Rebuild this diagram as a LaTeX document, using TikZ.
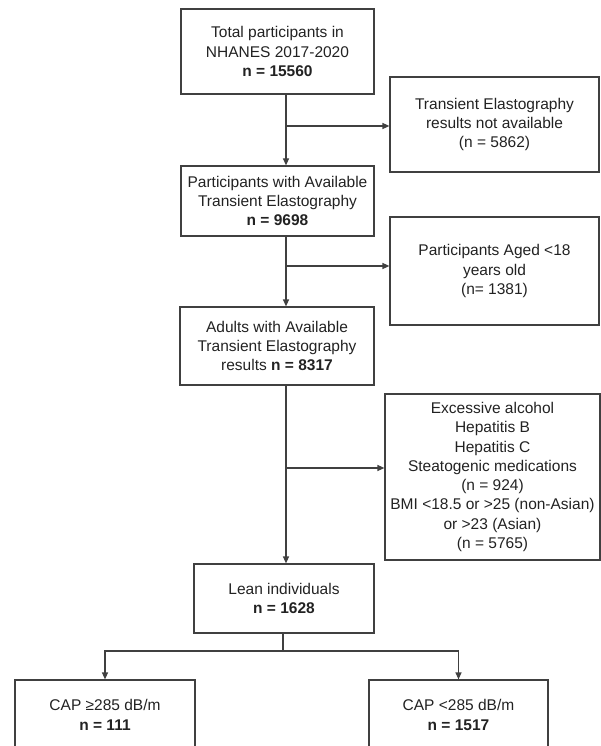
\documentclass[tikz,border=0pt]{standalone}
\usepackage{fontspec}
\setmainfont{Liberation Sans}
\usetikzlibrary{arrows.meta}
\definecolor{linec}{HTML}{404040}
\definecolor{textc}{HTML}{222222}
\begin{document}
\begin{tikzpicture}[x=1pt,y=-1pt,
  box/.style={draw=linec, line width=1.2pt, text=textc, align=center, inner sep=0pt,
    font=\fontsize{15.5}{19.3}\selectfont},
  arr/.style={draw=linec, line width=1.2pt, -{Triangle[length=7pt,width=6pt]}},
  ln/.style={draw=linec, line width=1.2pt}]
\useasboundingbox (0,0) rectangle (601,746);
\node[box, minimum width=193pt, minimum height=85pt] (b1) at (277.5,51.5)
  {Total participants in\\NHANES 2017-2020\\\textbf{n = 15560}};
\node[box, minimum width=209pt, minimum height=95pt] (e1) at (494.5,124.5)
  {Transient Elastography\\results not available\\(n = 5862)};
\node[box, minimum width=193pt, minimum height=70pt] (b2) at (277.5,201)
  {Participants with Available\\Transient Elastography\\\textbf{n = 9698}};
\node[box, minimum width=209pt, minimum height=108pt] (e2) at (494.5,271)
  {Participants Aged <18\\years old\\(n= 1381)};
\node[box, minimum width=194pt, minimum height=78pt] (b3) at (277,346)
  {Adults with Available\\Transient Elastography\\results \textbf{n = 8317}};
\node[box, minimum width=215pt, minimum height=166pt] (e3) at (492.5,477)
  {Excessive alcohol\\Hepatitis B\\Hepatitis C\\Steatogenic medications\\(n = 924)\\BMI <18.5 or >25 (non-Asian)\\or >23 (Asian)\\(n = 5765)};
\node[box, minimum width=180pt, minimum height=69pt] (lean) at (284,598.5)
  {Lean individuals\\\textbf{n = 1628}};
\node[box, minimum width=180pt, minimum height=70pt] (c1) at (105,715)
  {CAP ≥285 dB/m\\\textbf{n = 111}};
\node[box, minimum width=179pt, minimum height=70pt] (c2) at (458.5,715)
  {CAP <285 dB/m\\\textbf{n = 1517}};
% main flow
\draw[arr] (b1.south -| 286,0) -- (b2.north -| 286,0);
\draw[arr] (b2.south -| 286,0) -- (b3.north -| 286,0);
\draw[arr] (b3.south -| 286,0) -- (lean.north -| 286,0);
\coordinate (j1) at (286,126);
\coordinate (j2) at (286,266);
\coordinate (j3) at (286,468);
\draw[arr] (j1) -- (j1 -| e1.west);
\draw[arr] (j2) -- (j2 -| e2.west);
\draw[arr] (j3) -- (j3 -| e3.west);
% split
\coordinate (s) at (283,651);
\draw[ln] (lean.south -| s) -- (s);
\draw[arr] (s) -| (c1.north);
\draw[arr] (s) -| (c2.north);
\end{tikzpicture}
\end{document}
